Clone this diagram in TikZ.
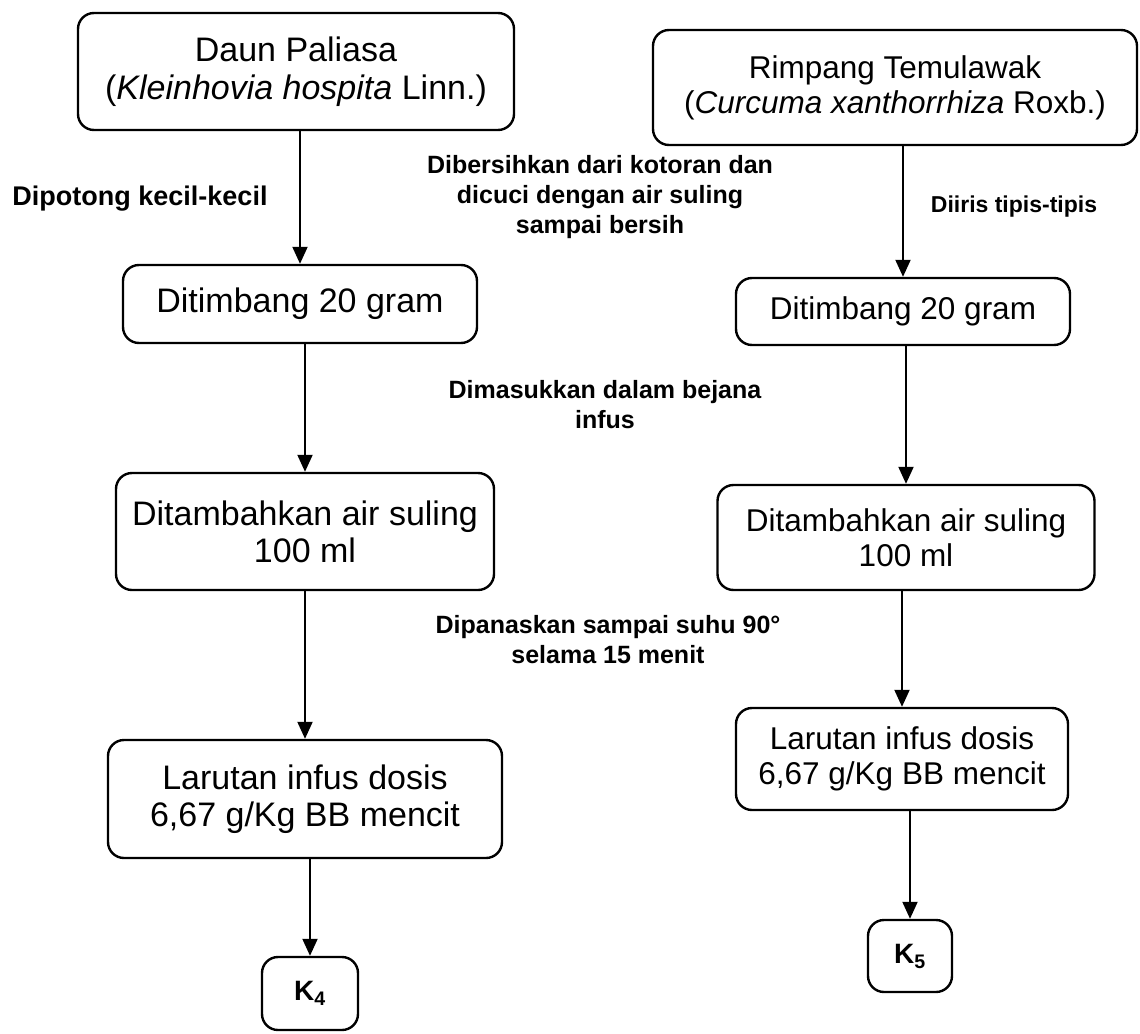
\documentclass[tikz,border=0pt]{standalone}
\usepackage{fontspec}
\setmainfont{Liberation Sans}
\usetikzlibrary{arrows.meta}
\begin{document}
\begin{tikzpicture}[x=1pt,y=-1pt,
  box/.style={draw, line width=2.4pt, rounded corners=16pt, align=center, inner sep=0pt},
  lbox/.style={box, font=\fontsize{34}{37}\selectfont},
  rbox/.style={box, font=\fontsize{31.5}{35}\selectfont},
  kbox/.style={box, font=\bfseries\fontsize{28}{30}\selectfont},
  lab/.style={align=center, inner sep=0pt, font=\bfseries\fontsize{25}{30}\selectfont},
  arr/.style={line width=2pt, -{Triangle[length=17pt,width=15pt]}}]
\useasboundingbox (0,0) rectangle (1140,1033);

% left column
\node[lbox, font=\fontsize{34}{38}\selectfont, minimum width=436pt, minimum height=117pt] (L1) at (296,71.5) {Daun Paliasa\\(\textit{Kleinhovia hospita} Linn.)};
\node[lbox, minimum width=354pt, minimum height=78pt] (L2) at (300,304) {Ditimbang 20 gram};
\node[lbox, minimum width=378pt, minimum height=117pt] (L3) at (305,531.5) {Ditambahkan air suling\\100 ml};
\node[lbox, minimum width=394pt, minimum height=118pt] (L4) at (305,799) {Larutan infus dosis\\6,67 g/Kg BB mencit};
\node[kbox, minimum width=96pt, minimum height=73pt] (K4) at (310,993.5) {K\textsubscript{4}};

% right column
\node[rbox, minimum width=484pt, minimum height=115pt] (R1) at (895,87.5) {Rimpang Temulawak\\(\textit{Curcuma xanthorrhiza} Roxb.)};
\node[rbox, minimum width=334pt, minimum height=67pt] (R2) at (903,311.5) {Ditimbang 20 gram};
\node[rbox, minimum width=377pt, minimum height=105pt] (R3) at (906,537.5) {Ditambahkan air suling\\100 ml};
\node[rbox, minimum width=332pt, minimum height=102pt] (R4) at (902,759) {Larutan infus dosis\\6,67 g/Kg BB mencit};
\node[kbox, minimum width=84pt, minimum height=72pt] (K5) at (910,956) {K\textsubscript{5}};

% arrows
\draw[arr] (L2.north |- L1.south) -- (L2.north);
\draw[arr] (L3.north |- L2.south) -- (L3.north);
\draw[arr] (L4.north |- L3.south) -- (L4.north);
\draw[arr] (K4.north |- L4.south) -- (K4.north);
\draw[arr] (R2.north |- R1.south) -- (R2.north);
\draw[arr] (R3.north |- R2.south) -- (R3.north);
\draw[arr] (R4.north |- R3.south) -- (R4.north);
\draw[arr] (K5.north |- R4.south) -- (K5.north);

% labels
\node[lab, font=\bfseries\fontsize{27}{30}\selectfont, anchor=base] (t1) at (140,205) {Dipotong kecil-kecil};
\node[lab] (t2) at (600,197) {Dibersihkan dari kotoran dan\\dicuci dengan air suling\\sampai bersih};
\node[lab, font=\bfseries\fontsize{23}{28}\selectfont, anchor=base] (t3) at (1014,212) {Diiris tipis-tipis};
\node[lab] (t4) at (605,405) {Dimasukkan dalam bejana\\infus};
\node[lab] (t5) at (608,640) {Dipanaskan sampai suhu 90°\\selama 15 menit};
\end{tikzpicture}
\end{document}
